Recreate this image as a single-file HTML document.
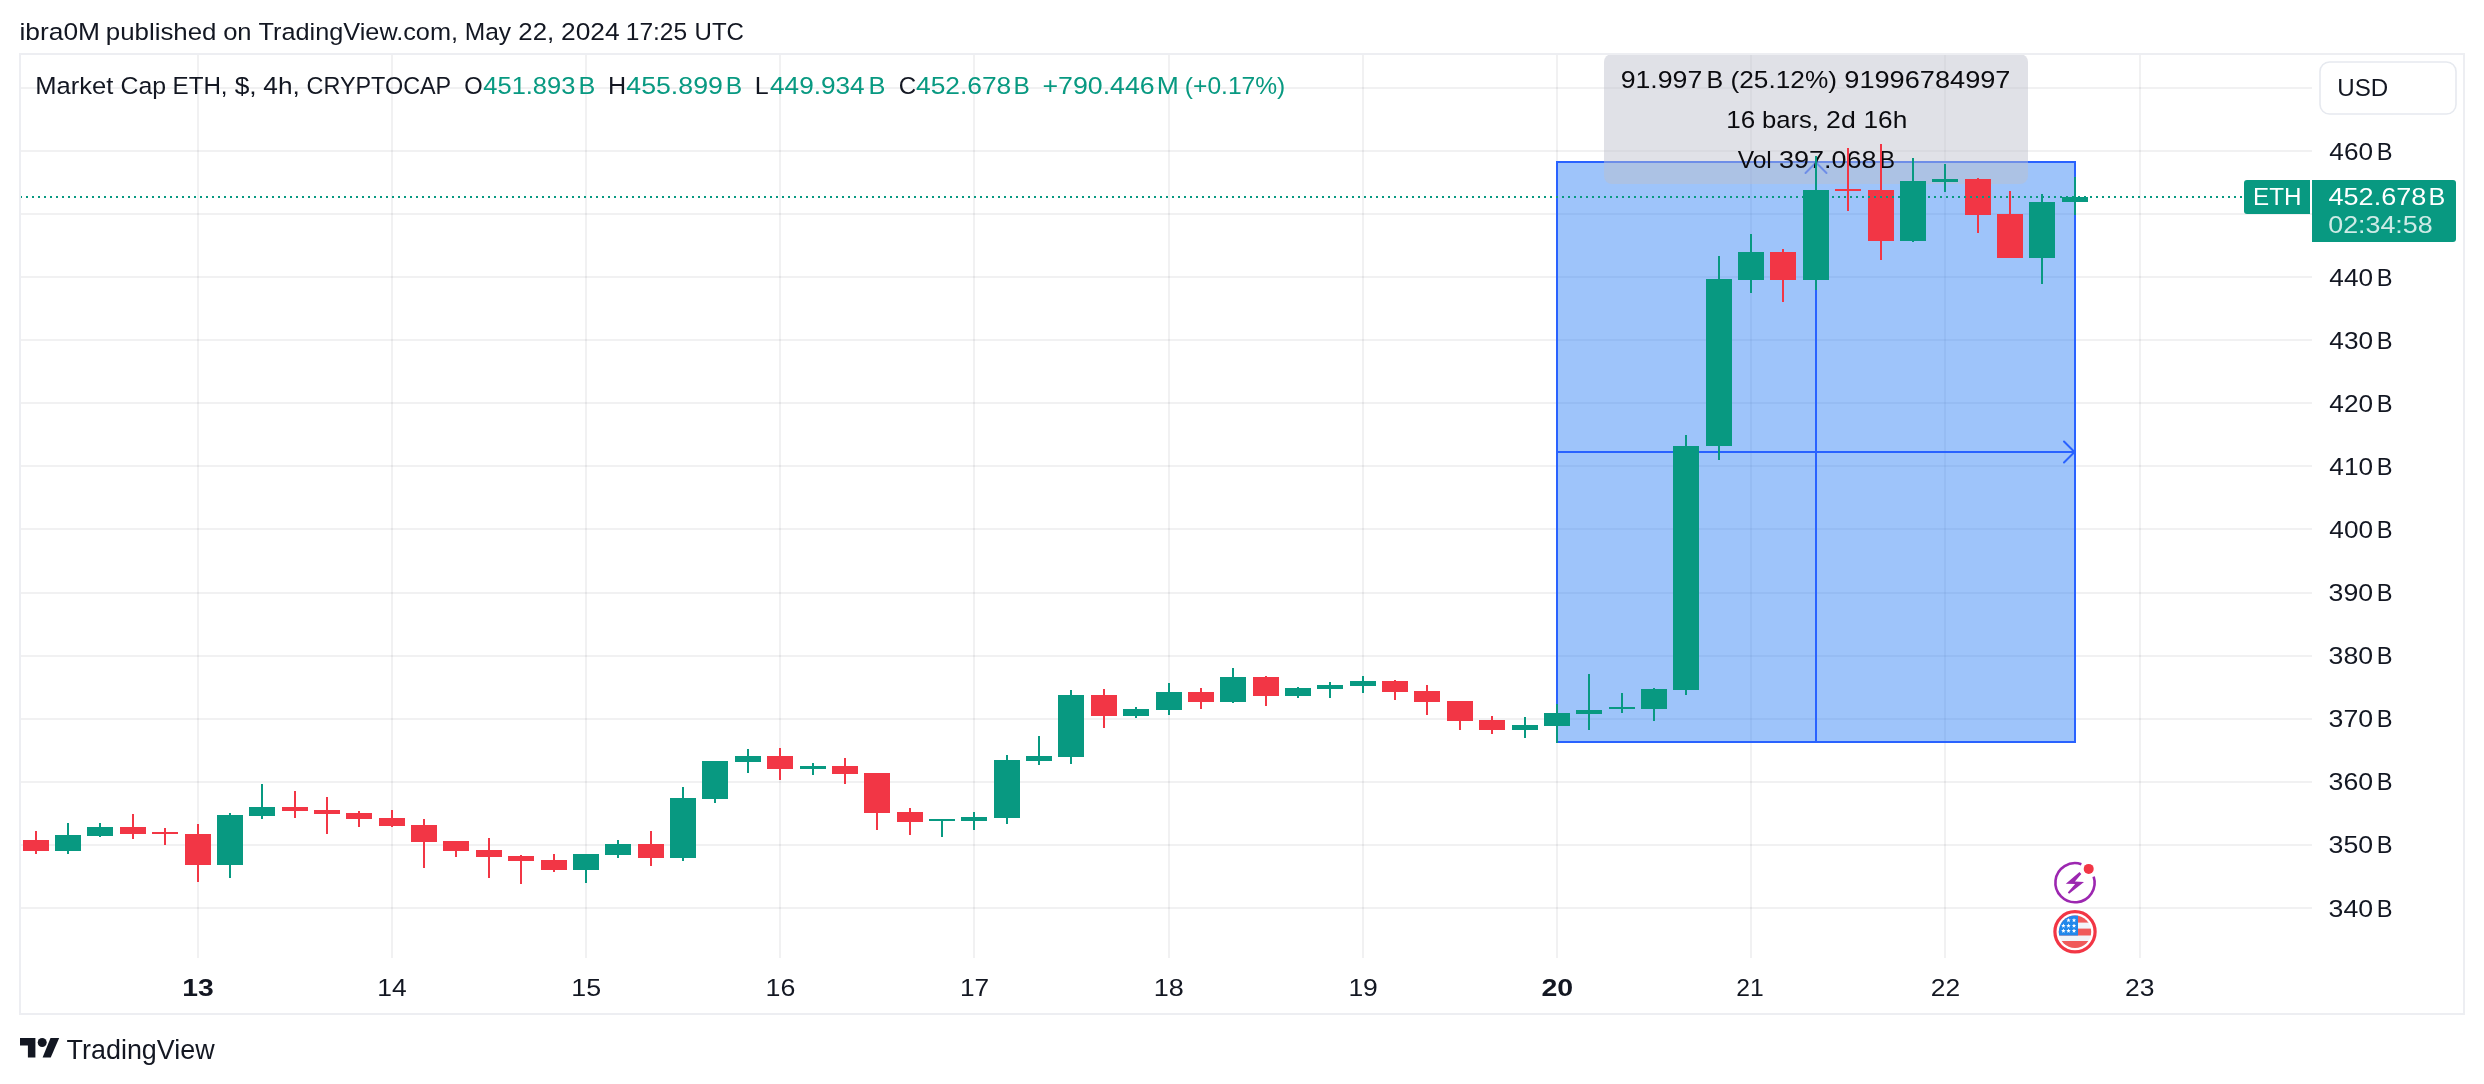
<!DOCTYPE html><html><head><meta charset="utf-8"><style>html,body{margin:0;padding:0;background:#fff;width:2484px;height:1084px;overflow:hidden}svg{display:block;will-change:transform}text{font-family:"Liberation Sans",sans-serif}</style></head><body>
<svg width="2484" height="1084" viewBox="0 0 2484 1084">
<rect width="2484" height="1084" fill="#fff"/>
<text x="19.47" y="40" font-size="24.5" fill="#131722" textLength="80.53" lengthAdjust="spacingAndGlyphs" >ibra0M</text>
<text x="105.79" y="40" font-size="24.5" fill="#131722" textLength="110.68" lengthAdjust="spacingAndGlyphs" >published</text>
<text x="223.15" y="40" font-size="24.5" fill="#131722" textLength="28.46" lengthAdjust="spacingAndGlyphs" >on</text>
<text x="258.64" y="40" font-size="24.5" fill="#131722" textLength="199.36" lengthAdjust="spacingAndGlyphs" >TradingView.com,</text>
<text x="464.76" y="40" font-size="24.5" fill="#131722" textLength="46.40" lengthAdjust="spacingAndGlyphs" >May</text>
<text x="518.37" y="40" font-size="24.5" fill="#131722" textLength="35.91" lengthAdjust="spacingAndGlyphs" >22,</text>
<text x="561.06" y="40" font-size="24.5" fill="#131722" textLength="58.63" lengthAdjust="spacingAndGlyphs" >2024</text>
<text x="625.74" y="40" font-size="24.5" fill="#131722" textLength="61.44" lengthAdjust="spacingAndGlyphs" >17:25</text>
<text x="694.54" y="40" font-size="24.5" fill="#131722" textLength="49.44" lengthAdjust="spacingAndGlyphs" >UTC</text>
<rect x="20" y="87" width="2292" height="2" fill="rgba(42,46,57,0.065)"/>
<rect x="20" y="150" width="2292" height="2" fill="rgba(42,46,57,0.065)"/>
<rect x="20" y="213" width="2292" height="2" fill="rgba(42,46,57,0.065)"/>
<rect x="20" y="276" width="2292" height="2" fill="rgba(42,46,57,0.065)"/>
<rect x="20" y="339" width="2292" height="2" fill="rgba(42,46,57,0.065)"/>
<rect x="20" y="402" width="2292" height="2" fill="rgba(42,46,57,0.065)"/>
<rect x="20" y="465" width="2292" height="2" fill="rgba(42,46,57,0.065)"/>
<rect x="20" y="528" width="2292" height="2" fill="rgba(42,46,57,0.065)"/>
<rect x="20" y="592" width="2292" height="2" fill="rgba(42,46,57,0.065)"/>
<rect x="20" y="655" width="2292" height="2" fill="rgba(42,46,57,0.065)"/>
<rect x="20" y="718" width="2292" height="2" fill="rgba(42,46,57,0.065)"/>
<rect x="20" y="781" width="2292" height="2" fill="rgba(42,46,57,0.065)"/>
<rect x="20" y="844" width="2292" height="2" fill="rgba(42,46,57,0.065)"/>
<rect x="20" y="907" width="2292" height="2" fill="rgba(42,46,57,0.065)"/>
<rect x="197" y="54" width="2" height="904" fill="rgba(42,46,57,0.065)"/>
<rect x="391" y="54" width="2" height="904" fill="rgba(42,46,57,0.065)"/>
<rect x="585" y="54" width="2" height="904" fill="rgba(42,46,57,0.065)"/>
<rect x="779" y="54" width="2" height="904" fill="rgba(42,46,57,0.065)"/>
<rect x="973" y="54" width="2" height="904" fill="rgba(42,46,57,0.065)"/>
<rect x="1168" y="54" width="2" height="904" fill="rgba(42,46,57,0.065)"/>
<rect x="1362" y="54" width="2" height="904" fill="rgba(42,46,57,0.065)"/>
<rect x="1556" y="54" width="2" height="904" fill="rgba(42,46,57,0.065)"/>
<rect x="1750" y="54" width="2" height="904" fill="rgba(42,46,57,0.065)"/>
<rect x="1944" y="54" width="2" height="904" fill="rgba(42,46,57,0.065)"/>
<rect x="2139" y="54" width="2" height="904" fill="rgba(42,46,57,0.065)"/>
<rect x="1557" y="162" width="518" height="580" fill="rgba(40,124,244,0.45)"/>
<rect x="1557" y="162" width="518" height="580" fill="none" stroke="#2962FF" stroke-width="2"/>
<rect x="1815" y="162" width="2" height="580" fill="#2962FF"/>
<rect x="1557" y="451" width="518" height="2" fill="#2962FF"/>
<polyline points="2064,441.5 2074.5,452 2064,462.5" fill="none" stroke="#2962FF" stroke-width="2" stroke-linecap="round" stroke-linejoin="round"/>
<polyline points="1805.5,173 1816,162.5 1826.5,173" fill="none" stroke="#2962FF" stroke-width="2" stroke-linecap="round" stroke-linejoin="round"/>
<rect x="1604" y="54" width="424" height="130" rx="8" fill="rgba(190,192,204,0.47)"/>
<text x="1620.71" y="87.7" font-size="24.5" fill="#0B0B0F" textLength="81.53" lengthAdjust="spacingAndGlyphs" >91.997</text>
<text x="1706.64" y="87.7" font-size="24.5" fill="#0B0B0F" textLength="16.67" lengthAdjust="spacingAndGlyphs" >B</text>
<text x="1730.51" y="87.7" font-size="24.5" fill="#0B0B0F" textLength="106.46" lengthAdjust="spacingAndGlyphs" >(25.12%)</text>
<text x="1844.31" y="87.7" font-size="24.5" fill="#0B0B0F" textLength="166.16" lengthAdjust="spacingAndGlyphs" >91996784997</text>
<text x="1726.38" y="127.6" font-size="24.5" fill="#0B0B0F" textLength="28.96" lengthAdjust="spacingAndGlyphs" >16</text>
<text x="1762.04" y="127.6" font-size="24.5" fill="#0B0B0F" textLength="56.93" lengthAdjust="spacingAndGlyphs" >bars,</text>
<text x="1826.06" y="127.6" font-size="24.5" fill="#0B0B0F" textLength="29.69" lengthAdjust="spacingAndGlyphs" >2d</text>
<text x="1863.50" y="127.6" font-size="24.5" fill="#0B0B0F" textLength="43.80" lengthAdjust="spacingAndGlyphs" >16h</text>
<text x="1737.69" y="167.6" font-size="24.5" fill="#0B0B0F" textLength="34.13" lengthAdjust="spacingAndGlyphs" >Vol</text>
<text x="1779.08" y="167.6" font-size="24.5" fill="#0B0B0F" textLength="97.47" lengthAdjust="spacingAndGlyphs" >397.068</text>
<text x="1879.59" y="167.6" font-size="24.5" fill="#0B0B0F" textLength="15.53" lengthAdjust="spacingAndGlyphs" >B</text>
<rect x="35" y="831" width="2" height="23" fill="#F23645"/>
<rect x="23" y="840" width="26" height="11" fill="#F23645"/>
<rect x="67" y="823" width="2" height="31" fill="#089981"/>
<rect x="55" y="835" width="26" height="16" fill="#089981"/>
<rect x="99" y="823" width="2" height="14" fill="#089981"/>
<rect x="87" y="827" width="26" height="9" fill="#089981"/>
<rect x="132" y="814" width="2" height="25" fill="#F23645"/>
<rect x="120" y="827" width="26" height="7" fill="#F23645"/>
<rect x="164" y="828" width="2" height="17" fill="#F23645"/>
<rect x="152" y="832" width="26" height="2" fill="#F23645"/>
<rect x="197" y="824" width="2" height="58" fill="#F23645"/>
<rect x="185" y="834" width="26" height="31" fill="#F23645"/>
<rect x="229" y="813" width="2" height="65" fill="#089981"/>
<rect x="217" y="815" width="26" height="50" fill="#089981"/>
<rect x="261" y="784" width="2" height="35" fill="#089981"/>
<rect x="249" y="807" width="26" height="9" fill="#089981"/>
<rect x="294" y="791" width="2" height="27" fill="#F23645"/>
<rect x="282" y="807" width="26" height="4" fill="#F23645"/>
<rect x="326" y="797" width="2" height="37" fill="#F23645"/>
<rect x="314" y="810" width="26" height="4" fill="#F23645"/>
<rect x="358" y="811" width="2" height="16" fill="#F23645"/>
<rect x="346" y="813" width="26" height="6" fill="#F23645"/>
<rect x="391" y="810" width="2" height="17" fill="#F23645"/>
<rect x="379" y="818" width="26" height="8" fill="#F23645"/>
<rect x="423" y="819" width="2" height="49" fill="#F23645"/>
<rect x="411" y="825" width="26" height="17" fill="#F23645"/>
<rect x="455" y="841" width="2" height="16" fill="#F23645"/>
<rect x="443" y="841" width="26" height="10" fill="#F23645"/>
<rect x="488" y="838" width="2" height="40" fill="#F23645"/>
<rect x="476" y="850" width="26" height="7" fill="#F23645"/>
<rect x="520" y="855" width="2" height="29" fill="#F23645"/>
<rect x="508" y="856" width="26" height="5" fill="#F23645"/>
<rect x="553" y="854" width="2" height="18" fill="#F23645"/>
<rect x="541" y="860" width="26" height="10" fill="#F23645"/>
<rect x="585" y="854" width="2" height="29" fill="#089981"/>
<rect x="573" y="854" width="26" height="16" fill="#089981"/>
<rect x="617" y="840" width="2" height="18" fill="#089981"/>
<rect x="605" y="844" width="26" height="11" fill="#089981"/>
<rect x="650" y="831" width="2" height="35" fill="#F23645"/>
<rect x="638" y="844" width="26" height="14" fill="#F23645"/>
<rect x="682" y="787" width="2" height="74" fill="#089981"/>
<rect x="670" y="798" width="26" height="60" fill="#089981"/>
<rect x="714" y="761" width="2" height="42" fill="#089981"/>
<rect x="702" y="761" width="26" height="38" fill="#089981"/>
<rect x="747" y="749" width="2" height="24" fill="#089981"/>
<rect x="735" y="756" width="26" height="6" fill="#089981"/>
<rect x="779" y="748" width="2" height="32" fill="#F23645"/>
<rect x="767" y="756" width="26" height="13" fill="#F23645"/>
<rect x="812" y="763" width="2" height="12" fill="#089981"/>
<rect x="800" y="766" width="26" height="3" fill="#089981"/>
<rect x="844" y="758" width="2" height="26" fill="#F23645"/>
<rect x="832" y="766" width="26" height="8" fill="#F23645"/>
<rect x="876" y="773" width="2" height="57" fill="#F23645"/>
<rect x="864" y="773" width="26" height="40" fill="#F23645"/>
<rect x="909" y="808" width="2" height="27" fill="#F23645"/>
<rect x="897" y="812" width="26" height="10" fill="#F23645"/>
<rect x="941" y="819" width="2" height="18" fill="#089981"/>
<rect x="929" y="819" width="26" height="2" fill="#089981"/>
<rect x="973" y="812" width="2" height="18" fill="#089981"/>
<rect x="961" y="817" width="26" height="4" fill="#089981"/>
<rect x="1006" y="755" width="2" height="69" fill="#089981"/>
<rect x="994" y="760" width="26" height="58" fill="#089981"/>
<rect x="1038" y="736" width="2" height="29" fill="#089981"/>
<rect x="1026" y="756" width="26" height="5" fill="#089981"/>
<rect x="1070" y="690" width="2" height="74" fill="#089981"/>
<rect x="1058" y="695" width="26" height="62" fill="#089981"/>
<rect x="1103" y="689" width="2" height="39" fill="#F23645"/>
<rect x="1091" y="695" width="26" height="21" fill="#F23645"/>
<rect x="1135" y="707" width="2" height="11" fill="#089981"/>
<rect x="1123" y="709" width="26" height="7" fill="#089981"/>
<rect x="1168" y="683" width="2" height="32" fill="#089981"/>
<rect x="1156" y="692" width="26" height="18" fill="#089981"/>
<rect x="1200" y="688" width="2" height="21" fill="#F23645"/>
<rect x="1188" y="692" width="26" height="10" fill="#F23645"/>
<rect x="1232" y="668" width="2" height="35" fill="#089981"/>
<rect x="1220" y="677" width="26" height="25" fill="#089981"/>
<rect x="1265" y="676" width="2" height="30" fill="#F23645"/>
<rect x="1253" y="677" width="26" height="19" fill="#F23645"/>
<rect x="1297" y="687" width="2" height="11" fill="#089981"/>
<rect x="1285" y="688" width="26" height="8" fill="#089981"/>
<rect x="1329" y="682" width="2" height="16" fill="#089981"/>
<rect x="1317" y="685" width="26" height="4" fill="#089981"/>
<rect x="1362" y="676" width="2" height="17" fill="#089981"/>
<rect x="1350" y="681" width="26" height="5" fill="#089981"/>
<rect x="1394" y="680" width="2" height="20" fill="#F23645"/>
<rect x="1382" y="681" width="26" height="11" fill="#F23645"/>
<rect x="1426" y="685" width="2" height="30" fill="#F23645"/>
<rect x="1414" y="691" width="26" height="11" fill="#F23645"/>
<rect x="1459" y="701" width="2" height="29" fill="#F23645"/>
<rect x="1447" y="701" width="26" height="20" fill="#F23645"/>
<rect x="1491" y="716" width="2" height="18" fill="#F23645"/>
<rect x="1479" y="720" width="26" height="10" fill="#F23645"/>
<rect x="1524" y="717" width="2" height="21" fill="#089981"/>
<rect x="1512" y="725" width="26" height="5" fill="#089981"/>
<rect x="1556" y="704" width="2" height="39" fill="#089981"/>
<rect x="1544" y="713" width="26" height="13" fill="#089981"/>
<rect x="1588" y="674" width="2" height="56" fill="#089981"/>
<rect x="1576" y="710" width="26" height="4" fill="#089981"/>
<rect x="1621" y="693" width="2" height="20" fill="#089981"/>
<rect x="1609" y="707" width="26" height="2" fill="#089981"/>
<rect x="1653" y="688" width="2" height="33" fill="#089981"/>
<rect x="1641" y="689" width="26" height="20" fill="#089981"/>
<rect x="1685" y="435" width="2" height="260" fill="#089981"/>
<rect x="1673" y="446" width="26" height="244" fill="#089981"/>
<rect x="1718" y="256" width="2" height="204" fill="#089981"/>
<rect x="1706" y="279" width="26" height="167" fill="#089981"/>
<rect x="1750" y="234" width="2" height="59" fill="#089981"/>
<rect x="1738" y="252" width="26" height="28" fill="#089981"/>
<rect x="1782" y="249" width="2" height="53" fill="#F23645"/>
<rect x="1770" y="252" width="26" height="28" fill="#F23645"/>
<rect x="1815" y="156" width="2" height="134" fill="#089981"/>
<rect x="1803" y="190" width="26" height="90" fill="#089981"/>
<rect x="1847" y="148" width="2" height="63" fill="#F23645"/>
<rect x="1835" y="189" width="26" height="2" fill="#F23645"/>
<rect x="1880" y="144" width="2" height="116" fill="#F23645"/>
<rect x="1868" y="190" width="26" height="51" fill="#F23645"/>
<rect x="1912" y="158" width="2" height="84" fill="#089981"/>
<rect x="1900" y="181" width="26" height="60" fill="#089981"/>
<rect x="1944" y="164" width="2" height="28" fill="#089981"/>
<rect x="1932" y="179" width="26" height="3" fill="#089981"/>
<rect x="1977" y="178" width="2" height="55" fill="#F23645"/>
<rect x="1965" y="179" width="26" height="36" fill="#F23645"/>
<rect x="2009" y="191" width="2" height="67" fill="#F23645"/>
<rect x="1997" y="214" width="26" height="44" fill="#F23645"/>
<rect x="2041" y="194" width="2" height="90" fill="#089981"/>
<rect x="2029" y="202" width="26" height="56" fill="#089981"/>
<rect x="2074" y="177" width="2" height="38" fill="#089981"/>
<rect x="2062" y="197" width="26" height="5" fill="#089981"/>
<line x1="20" y1="197" x2="2244" y2="197" stroke="#089981" stroke-width="2" stroke-dasharray="2 4"/>
<path d="M2247,180 H2310 V214 H2247 a3,3 0 0 1 -3,-3 V183 a3,3 0 0 1 3,-3 Z" fill="#089981"/>
<text x="2253.12" y="205" font-size="24.5" fill="#fff" textLength="48.37" lengthAdjust="spacingAndGlyphs" >ETH</text>
<path d="M2312,180 H2453 a3,3 0 0 1 3,3 V239 a3,3 0 0 1 -3,3 H2312 Z" fill="#089981"/>
<text x="2328.50" y="205" font-size="24.5" fill="#fff" textLength="97.82" lengthAdjust="spacingAndGlyphs" >452.678</text>
<text x="2428.42" y="205" font-size="24.5" fill="#fff" textLength="16.79" lengthAdjust="spacingAndGlyphs" >B</text>
<text x="2328.21" y="233" font-size="24.5" fill="rgba(255,255,255,0.8)" textLength="104.49" lengthAdjust="spacingAndGlyphs" >02:34:58</text>
<text x="2329.38" y="159.6" font-size="24.5" fill="#131722" textLength="43.72" lengthAdjust="spacingAndGlyphs" >460</text>
<text x="2376.75" y="159.6" font-size="24.5" fill="#131722" textLength="15.78" lengthAdjust="spacingAndGlyphs" >B</text>
<text x="2329.38" y="285.8" font-size="24.5" fill="#131722" textLength="43.72" lengthAdjust="spacingAndGlyphs" >440</text>
<text x="2376.75" y="285.8" font-size="24.5" fill="#131722" textLength="15.78" lengthAdjust="spacingAndGlyphs" >B</text>
<text x="2329.38" y="348.8" font-size="24.5" fill="#131722" textLength="43.72" lengthAdjust="spacingAndGlyphs" >430</text>
<text x="2376.75" y="348.8" font-size="24.5" fill="#131722" textLength="15.78" lengthAdjust="spacingAndGlyphs" >B</text>
<text x="2329.38" y="411.9" font-size="24.5" fill="#131722" textLength="43.72" lengthAdjust="spacingAndGlyphs" >420</text>
<text x="2376.75" y="411.9" font-size="24.5" fill="#131722" textLength="15.78" lengthAdjust="spacingAndGlyphs" >B</text>
<text x="2329.38" y="475.0" font-size="24.5" fill="#131722" textLength="43.72" lengthAdjust="spacingAndGlyphs" >410</text>
<text x="2376.75" y="475.0" font-size="24.5" fill="#131722" textLength="15.78" lengthAdjust="spacingAndGlyphs" >B</text>
<text x="2329.38" y="538.1" font-size="24.5" fill="#131722" textLength="43.72" lengthAdjust="spacingAndGlyphs" >400</text>
<text x="2376.75" y="538.1" font-size="24.5" fill="#131722" textLength="15.78" lengthAdjust="spacingAndGlyphs" >B</text>
<text x="2328.62" y="601.1" font-size="24.5" fill="#131722" textLength="44.52" lengthAdjust="spacingAndGlyphs" >390</text>
<text x="2376.75" y="601.1" font-size="24.5" fill="#131722" textLength="15.78" lengthAdjust="spacingAndGlyphs" >B</text>
<text x="2328.62" y="664.2" font-size="24.5" fill="#131722" textLength="44.52" lengthAdjust="spacingAndGlyphs" >380</text>
<text x="2376.75" y="664.2" font-size="24.5" fill="#131722" textLength="15.78" lengthAdjust="spacingAndGlyphs" >B</text>
<text x="2328.62" y="727.3" font-size="24.5" fill="#131722" textLength="44.52" lengthAdjust="spacingAndGlyphs" >370</text>
<text x="2376.75" y="727.3" font-size="24.5" fill="#131722" textLength="15.78" lengthAdjust="spacingAndGlyphs" >B</text>
<text x="2328.62" y="790.4" font-size="24.5" fill="#131722" textLength="44.52" lengthAdjust="spacingAndGlyphs" >360</text>
<text x="2376.75" y="790.4" font-size="24.5" fill="#131722" textLength="15.78" lengthAdjust="spacingAndGlyphs" >B</text>
<text x="2328.62" y="853.4" font-size="24.5" fill="#131722" textLength="44.52" lengthAdjust="spacingAndGlyphs" >350</text>
<text x="2376.75" y="853.4" font-size="24.5" fill="#131722" textLength="15.78" lengthAdjust="spacingAndGlyphs" >B</text>
<text x="2328.62" y="916.5" font-size="24.5" fill="#131722" textLength="44.52" lengthAdjust="spacingAndGlyphs" >340</text>
<text x="2376.75" y="916.5" font-size="24.5" fill="#131722" textLength="15.78" lengthAdjust="spacingAndGlyphs" >B</text>
<rect x="2320" y="62" width="136" height="52" rx="9.5" fill="#fff" stroke="#E6E9EF" stroke-width="1.6"/>
<text x="2337.34" y="96" font-size="24.5" fill="#131722" textLength="50.96" lengthAdjust="spacingAndGlyphs" >USD</text>
<text x="182.24" y="996.2" font-size="24.5" fill="#131722" textLength="31.51" lengthAdjust="spacingAndGlyphs" font-weight="bold" >13</text>
<text x="377.34" y="996.2" font-size="24.5" fill="#131722" textLength="29.36" lengthAdjust="spacingAndGlyphs" >14</text>
<text x="571.26" y="996.2" font-size="24.5" fill="#131722" textLength="29.86" lengthAdjust="spacingAndGlyphs" >15</text>
<text x="765.62" y="996.2" font-size="24.5" fill="#131722" textLength="29.86" lengthAdjust="spacingAndGlyphs" >16</text>
<text x="959.92" y="996.2" font-size="24.5" fill="#131722" textLength="29.20" lengthAdjust="spacingAndGlyphs" >17</text>
<text x="1153.80" y="996.2" font-size="24.5" fill="#131722" textLength="30.06" lengthAdjust="spacingAndGlyphs" >18</text>
<text x="1348.40" y="996.2" font-size="24.5" fill="#131722" textLength="29.47" lengthAdjust="spacingAndGlyphs" >19</text>
<text x="1541.42" y="996.2" font-size="24.5" fill="#131722" textLength="31.71" lengthAdjust="spacingAndGlyphs" font-weight="bold" >20</text>
<text x="1736.38" y="996.2" font-size="24.5" fill="#131722" textLength="27.44" lengthAdjust="spacingAndGlyphs" >21</text>
<text x="1930.82" y="996.2" font-size="24.5" fill="#131722" textLength="29.38" lengthAdjust="spacingAndGlyphs" >22</text>
<text x="2125.05" y="996.2" font-size="24.5" fill="#131722" textLength="29.42" lengthAdjust="spacingAndGlyphs" >23</text>
<text x="35.27" y="93.9" font-size="24.5" fill="#131722" textLength="78.08" lengthAdjust="spacingAndGlyphs" >Market</text>
<text x="120.53" y="93.9" font-size="24.5" fill="#131722" textLength="45.58" lengthAdjust="spacingAndGlyphs" >Cap</text>
<text x="172.50" y="93.9" font-size="24.5" fill="#131722" textLength="55.09" lengthAdjust="spacingAndGlyphs" >ETH,</text>
<text x="234.70" y="93.9" font-size="24.5" fill="#131722" textLength="21.93" lengthAdjust="spacingAndGlyphs" >$,</text>
<text x="263.32" y="93.9" font-size="24.5" fill="#131722" textLength="36.42" lengthAdjust="spacingAndGlyphs" >4h,</text>
<text x="306.61" y="93.9" font-size="24.5" fill="#131722" textLength="144.60" lengthAdjust="spacingAndGlyphs" >CRYPTOCAP</text>
<text x="464.34" y="93.9" font-size="24.5" fill="#131722" textLength="18.43" lengthAdjust="spacingAndGlyphs" >O</text>
<text x="483.33" y="93.9" font-size="24.5" fill="#089981" textLength="92.00" lengthAdjust="spacingAndGlyphs" >451.893</text>
<text x="578.52" y="93.9" font-size="24.5" fill="#089981" textLength="16.79" lengthAdjust="spacingAndGlyphs" >B</text>
<text x="608.02" y="93.9" font-size="24.5" fill="#131722" textLength="18.14" lengthAdjust="spacingAndGlyphs" >H</text>
<text x="626.30" y="93.9" font-size="24.5" fill="#089981" textLength="96.55" lengthAdjust="spacingAndGlyphs" >455.899</text>
<text x="725.87" y="93.9" font-size="24.5" fill="#089981" textLength="16.42" lengthAdjust="spacingAndGlyphs" >B</text>
<text x="754.86" y="93.9" font-size="24.5" fill="#131722" textLength="13.91" lengthAdjust="spacingAndGlyphs" >L</text>
<text x="770.04" y="93.9" font-size="24.5" fill="#089981" textLength="94.64" lengthAdjust="spacingAndGlyphs" >449.934</text>
<text x="868.40" y="93.9" font-size="24.5" fill="#089981" textLength="16.92" lengthAdjust="spacingAndGlyphs" >B</text>
<text x="898.70" y="93.9" font-size="24.5" fill="#131722" textLength="17.43" lengthAdjust="spacingAndGlyphs" >C</text>
<text x="916.01" y="93.9" font-size="24.5" fill="#089981" textLength="95.27" lengthAdjust="spacingAndGlyphs" >452.678</text>
<text x="1013.49" y="93.9" font-size="24.5" fill="#089981" textLength="16.29" lengthAdjust="spacingAndGlyphs" >B</text>
<text x="1042.46" y="93.9" font-size="24.5" fill="#089981" textLength="112.20" lengthAdjust="spacingAndGlyphs" >+790.446</text>
<text x="1156.87" y="93.9" font-size="24.5" fill="#089981" textLength="22.05" lengthAdjust="spacingAndGlyphs" >M</text>
<text x="1184.85" y="93.9" font-size="24.5" fill="#089981" textLength="100.47" lengthAdjust="spacingAndGlyphs" >(+0.17%)</text>
<rect x="19" y="53" width="2" height="962" fill="#EDEEF2"/>
<rect x="2463" y="53" width="2" height="962" fill="#EDEEF2"/>
<rect x="19" y="53" width="2446" height="2" fill="#EDEEF2"/>
<rect x="19" y="1013" width="2446" height="2" fill="#EDEEF2"/>
<path d="M2093.64,876.64 A19.6,19.6 0 1 1 2081.38,864.17" fill="none" stroke="#9C27B0" stroke-width="2.6"/>
<polygon points="2079.5,872.1 2081.3,874 2074.9,881.6 2084,882 2069.1,893.8 2067.8,892.4 2075.1,884 2065.8,883.8" fill="#9C27B0"/>
<circle cx="2088.7" cy="868.9" r="5" fill="#F23645"/>
<clipPath id="fc"><circle cx="2075" cy="931.8" r="16.2"/></clipPath>
<circle cx="2075" cy="931.8" r="20.1" fill="#fff" stroke="#F23645" stroke-width="3.2"/>
<g clip-path="url(#fc)">
<rect x="2055" y="912" width="40" height="40" fill="#F2F4F8"/>
<rect x="2055" y="910" width="40" height="12.6" fill="#F05A5A"/>
<rect x="2055" y="928.6" width="40" height="6.9" fill="#F05A5A"/>
<rect x="2055" y="941" width="40" height="10" fill="#F05A5A"/>
<rect x="2055" y="910" width="23" height="25.5" fill="#2187EB"/>
</g>
<polygon points="2068.50,918.00 2069.11,919.46 2070.69,919.59 2069.48,920.62 2069.85,922.16 2068.50,921.33 2067.15,922.16 2067.52,920.62 2066.31,919.59 2067.89,919.46" fill="#fff"/>
<polygon points="2074.00,918.00 2074.61,919.46 2076.19,919.59 2074.98,920.62 2075.35,922.16 2074.00,921.33 2072.65,922.16 2073.02,920.62 2071.81,919.59 2073.39,919.46" fill="#fff"/>
<polygon points="2063.40,923.50 2064.01,924.96 2065.59,925.09 2064.38,926.12 2064.75,927.66 2063.40,926.83 2062.05,927.66 2062.42,926.12 2061.21,925.09 2062.79,924.96" fill="#fff"/>
<polygon points="2068.50,923.50 2069.11,924.96 2070.69,925.09 2069.48,926.12 2069.85,927.66 2068.50,926.83 2067.15,927.66 2067.52,926.12 2066.31,925.09 2067.89,924.96" fill="#fff"/>
<polygon points="2074.00,923.50 2074.61,924.96 2076.19,925.09 2074.98,926.12 2075.35,927.66 2074.00,926.83 2072.65,927.66 2073.02,926.12 2071.81,925.09 2073.39,924.96" fill="#fff"/>
<polygon points="2063.40,928.60 2064.01,930.06 2065.59,930.19 2064.38,931.22 2064.75,932.76 2063.40,931.93 2062.05,932.76 2062.42,931.22 2061.21,930.19 2062.79,930.06" fill="#fff"/>
<polygon points="2068.50,928.60 2069.11,930.06 2070.69,930.19 2069.48,931.22 2069.85,932.76 2068.50,931.93 2067.15,932.76 2067.52,931.22 2066.31,930.19 2067.89,930.06" fill="#fff"/>
<polygon points="2074.00,928.60 2074.61,930.06 2076.19,930.19 2074.98,931.22 2075.35,932.76 2074.00,931.93 2072.65,932.76 2073.02,931.22 2071.81,930.19 2073.39,930.06" fill="#fff"/>
<path d="M20,1038 H35.4 V1057.4 H27.9 V1045.6 H20 Z" fill="#131722"/>
<circle cx="42.2" cy="1042.45" r="4.5" fill="#131722"/>
<path d="M50.5,1038 H59.2 L50.7,1057.4 H42.6 Z" fill="#131722"/>
<text x="66.59" y="1058.8" font-size="27.5" fill="#131722" textLength="148.12" lengthAdjust="spacingAndGlyphs" >TradingView</text>
</svg></body></html>
